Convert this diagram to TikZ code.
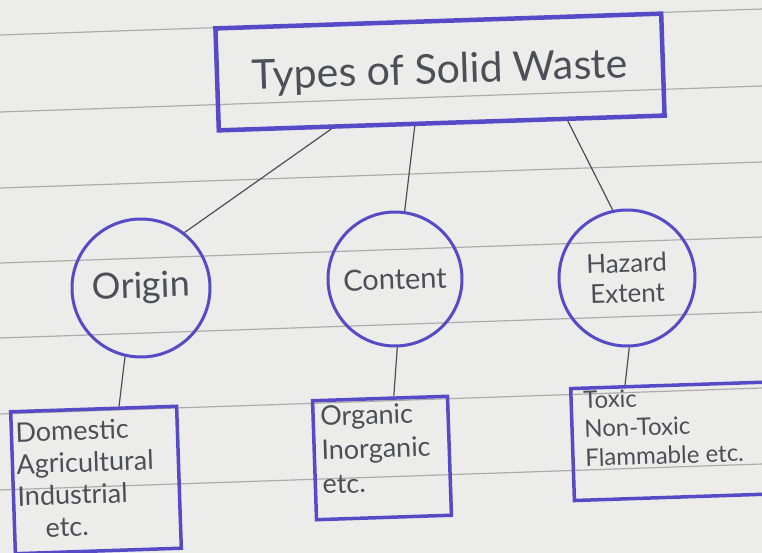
\documentclass[tikz,border=0pt]{standalone}
\usepackage{fontspec}
\setmainfont{Lato}
\usetikzlibrary{calc,positioning}
\definecolor{ink}{RGB}{86,74,198}
\definecolor{pencil}{RGB}{78,78,88}
\definecolor{paper}{RGB}{236,236,234}
\definecolor{rule}{RGB}{172,172,170}

\begin{document}
\begin{tikzpicture}[
 x = 1pt, y = -1pt,
  tilt/.style = {rotate=1.9},
 title/.style = {tilt, draw=ink, line width=4.5pt,
                 minimum width=446pt, minimum height=102pt,
                 text=pencil, font=\fontsize{41}{44}\selectfont},
  kind/.style = {tilt, circle, draw=ink, line width=3pt,
                 inner sep=0pt, text=pencil, align=center},
   box/.style = {tilt, draw=ink, line width=3.5pt},
  list/.style = {tilt, anchor=north west, align=left,
                 inner sep=0pt, text=pencil},
  link/.style = {pencil, line width=1.2pt},
                    ]
% lined paper
\clip (0,0) rectangle (762,553);
\fill[paper] (0,0) rectangle (762,553);
\foreach \y in {35,112,188,263,338,414,490}
    \draw[rule, line width=1.2pt] (0,\y) -- (762,\y-26);

\node[title] (title) at (440,72) {Types of Solid Waste};

\node[kind, minimum size=138pt, font=\fontsize{36}{38}\selectfont]
    (origin)  at (141,288) {Origin};
\node[kind, minimum size=134pt, font=\fontsize{29}{31}\selectfont]
    (content) at (395,279) {Content};
\node[kind, minimum size=136pt, font=\fontsize{26}{30}\selectfont]
    (hazard)  at (627,278) {Hazard\\Extent};

\node[box, minimum width=166pt, minimum height=142pt] (origin-box)  at (96,480)  {};
\node[box, minimum width=135pt, minimum height=119pt] (content-box) at (382,458) {};
\node[box, minimum width=215pt, minimum height=112pt] (hazard-box)  at (680,441) {};

\node[list, font=\fontsize{27}{32}\selectfont] (origin-list)
    at ([shift={(6,12)}]origin-box.north west)
    {Domestic\\Agricultural\\Industrial\\\hspace{1em}etc.};
\node[list, font=\fontsize{27}{34}\selectfont] (content-list)
    at ([shift={(9,7)}]content-box.north west)
    {Organic\\Inorganic\\etc.};
\node[list, font=\fontsize{24}{29}\selectfont] (hazard-list)
    at ([shift={(14,4)}]hazard-box.north west)
    {Toxic\\Non-Toxic\\Flammable etc.};

\draw[link] ($(title.south west)!0.255!(title.south east)$) -- (origin.50);
\draw[link] ($(title.south west)!0.44!(title.south east)$)  -- (content.80);
\draw[link] ($(title.south west)!0.78!(title.south east)$)  -- (hazard.100);

\draw[link] (origin.255) -- ($(origin-box.north west)!0.65!(origin-box.north east)$);
\draw[link] (content.south) -- ($(content-box.north west)!0.6!(content-box.north east)$);
\draw[link] (hazard.south) -- ($(hazard-box.north west)!0.257!(hazard-box.north east)$);
\end{tikzpicture}
\end{document}
